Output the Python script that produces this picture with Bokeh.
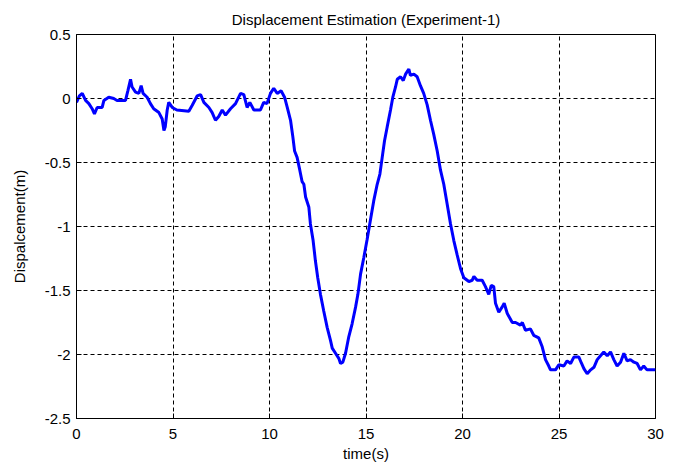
from bokeh.plotting import figure
from bokeh.models import Range1d, FixedTicker
from bokeh.embed import file_html
from bokeh.resources import INLINE

time_s = [0.0, 0.15, 0.3, 0.47, 0.64, 0.81, 0.93, 1.07, 1.33, 1.42, 1.67, 1.93, 2.1, 2.54, 2.66, 2.8, 2.88,
          3.06, 3.23, 3.35, 3.45, 3.66, 3.83, 4.0, 4.27, 4.44, 4.53, 4.6, 4.7, 4.78, 4.96, 5.2, 5.82, 5.99,
          6.25, 6.43, 6.6, 6.86, 7.03, 7.2, 7.37, 7.55, 7.72, 7.98, 8.24, 8.5, 8.67, 8.84, 8.98, 9.19, 9.53,
          9.7, 9.87, 10.05, 10.22, 10.4, 10.6, 10.78, 10.92, 11.09, 11.21, 11.3, 11.43, 11.57, 11.69, 11.78,
          11.87, 12.04, 12.12, 12.26, 12.38, 12.5, 12.64, 12.81, 12.99, 13.16, 13.25, 13.42, 13.59, 13.68,
          13.8, 13.94, 14.11, 14.28, 14.46, 14.58, 14.72, 14.89, 15.06, 15.23, 15.4, 15.58, 15.72, 15.84,
          15.96, 16.1, 16.27, 16.39, 16.53, 16.62, 16.79, 16.93, 17.05, 17.22, 17.3, 17.48, 17.65, 17.82,
          17.99, 18.17, 18.34, 18.51, 18.69, 18.86, 19.03, 19.2, 19.38, 19.55, 19.72, 19.9, 20.07, 20.33,
          20.5, 20.59, 20.76, 21.02, 21.19, 21.36, 21.49, 21.62, 21.71, 21.88, 22.05, 22.16, 22.32, 22.58,
          22.75, 23.0, 23.1, 23.26, 23.52, 23.69, 23.95, 24.13, 24.3, 24.47, 24.56, 24.82, 24.99, 25.25,
          25.42, 25.6, 25.77, 26.03, 26.17, 26.29, 26.46, 26.64, 26.81, 26.98, 27.15, 27.32, 27.5, 27.67,
          27.84, 28.01, 28.19, 28.36, 28.53, 28.7, 28.88, 29.05, 29.22, 29.39, 29.56, 29.82, 30.0]
displacement = [-0.03, 0.02, 0.04, -0.015, -0.04, -0.08, -0.12, -0.07, -0.07, -0.015, 0.01, 0.0, -0.015, -0.015,
                0.06, 0.15, 0.09, 0.05, 0.04, 0.1, 0.04, 0.01, -0.04, -0.08, -0.11, -0.16, -0.25, -0.22, -0.09,
                -0.03, -0.07, -0.09, -0.1, -0.055, 0.02, 0.03, -0.03, -0.07, -0.11, -0.17, -0.14, -0.09, -0.13,
                -0.08, -0.04, 0.04, 0.03, -0.07, -0.03, -0.09, -0.09, -0.03, -0.04, 0.04, 0.08, 0.04, 0.06, 0.01,
                -0.07, -0.17, -0.3, -0.41, -0.46, -0.56, -0.65, -0.67, -0.77, -0.85, -0.98, -1.11, -1.27, -1.4,
                -1.53, -1.66, -1.79, -1.89, -1.95, -1.99, -2.03, -2.07, -2.06, -1.99, -1.86, -1.76, -1.63, -1.53,
                -1.37, -1.24, -1.1, -0.95, -0.8, -0.67, -0.59, -0.46, -0.33, -0.22, -0.09, 0.01, 0.09, 0.15, 0.17,
                0.14, 0.19, 0.23, 0.18, 0.19, 0.17, 0.1, 0.04, -0.05, -0.17, -0.28, -0.41, -0.56, -0.67, -0.82,
                -0.98, -1.11, -1.22, -1.33, -1.40, -1.43, -1.42, -1.39, -1.42, -1.42, -1.47, -1.53, -1.46, -1.47,
                -1.60, -1.67, -1.63, -1.60, -1.68, -1.75, -1.75, -1.77, -1.75, -1.81, -1.80, -1.85, -1.87, -1.94,
                -2.04, -2.09, -2.12, -2.12, -2.08, -2.09, -2.05, -2.07, -2.02, -2.02, -2.07, -2.11, -2.15, -2.12,
                -2.10, -2.04, -2.01, -1.98, -2.01, -1.98, -2.04, -2.09, -2.06, -1.99, -2.05, -2.04, -2.06, -2.07,
                -2.12, -2.09, -2.12, -2.12, -2.12]

x_ticks = [0, 5, 10, 15, 20, 25, 30]
y_ticks = [-2.5, -2.0, -1.5, -1.0, -0.5, 0.0, 0.5]
y_tick_labels = ["-2.5", "-2", "-1.5", "-1", "-0.5", "0", "0.5"]

FONT = "Liberation Sans"

p = figure(frame_width=579, frame_height=384, output_backend="svg", toolbar_location=None,
           x_range=Range1d(0, 30), y_range=Range1d(-2.5, 0.5),
           title="Displacement Estimation (Experiment-1)",
           x_axis_label="time(s)", y_axis_label="Dispalcement(m)",
           min_border_left=76, min_border_right=19, min_border_top=34, min_border_bottom=50)

p.line(time_s, displacement, line_color="#0000FF", line_width=3)

p.title.align = "center"
p.title.text_font = FONT
p.title.text_font_size = "15px"
p.title.text_font_style = "normal"
p.title.text_color = "black"
p.title.offset = 0
p.title.standoff = 13

p.xaxis.ticker = FixedTicker(ticks=x_ticks)
p.yaxis.ticker = FixedTicker(ticks=y_ticks)
p.yaxis.major_label_overrides = {v: s for v, s in zip(y_ticks, y_tick_labels)}
p.xaxis.major_label_overrides = {v: str(v) for v in x_ticks}

for ax in (p.xaxis, p.yaxis):
    ax.axis_line_color = "black"
    ax.major_tick_line_color = "black"
    ax.major_tick_in = 5
    ax.major_tick_out = 0
    ax.minor_tick_line_color = None
    ax.major_label_text_font = FONT
    ax.major_label_text_font_size = "15px"
    ax.major_label_text_color = "black"
    ax.axis_label_text_font = FONT
    ax.axis_label_text_font_size = "15px"
    ax.axis_label_text_font_style = "normal"
    ax.axis_label_text_color = "black"
p.yaxis.major_label_standoff = 6
p.xaxis.major_label_standoff = 10
p.xaxis.axis_label_standoff = 3
p.yaxis.axis_label_standoff = 14

for g in (p.xgrid, p.ygrid):
    g.grid_line_color = "black"
    g.grid_line_alpha = 1.0
    g.grid_line_dash = "4 3"
    g.grid_line_width = 1

p.outline_line_color = "black"
p.outline_line_alpha = 1.0
p.outline_line_width = 1
p.background_fill_color = "white"
p.border_fill_color = "white"

open("out.html", "w").write(file_html(p, INLINE))
